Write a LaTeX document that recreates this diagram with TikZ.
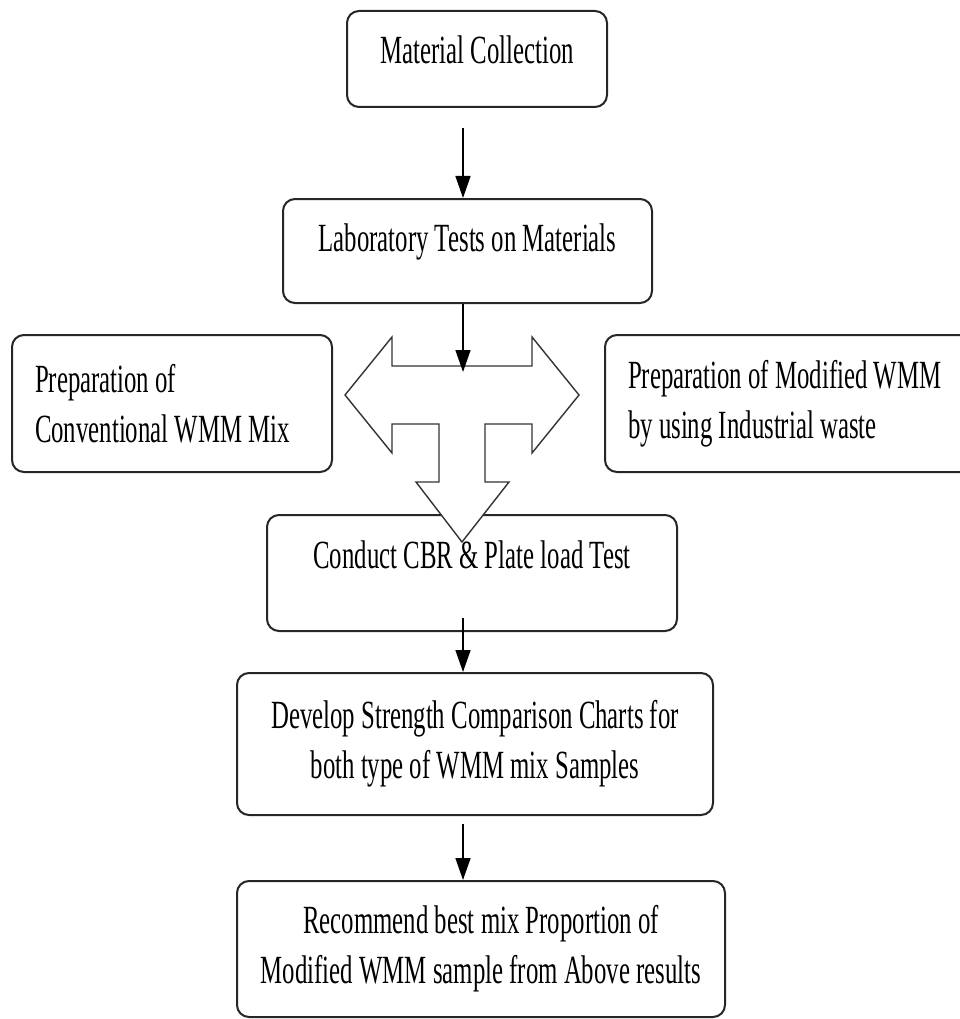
\documentclass[tikz,border=0pt]{standalone}
\usepackage{fontspec}
\setmainfont[FakeStretch=0.62]{Liberation Serif}
\usetikzlibrary{arrows.meta,positioning,calc}

\begin{document}
\begin{tikzpicture}[x=1pt,y=-1pt,
box/.style={draw=black!85,line width=2,rounded corners=12,fill=white,inner sep=0,
  font=\fontsize{40}{50}\selectfont,align=center},
onebox/.style={box,text height=26,text depth=26},
sidebox/.style={box,align=flush left,inner xsep=23},
tee/.style={draw=black!80,line width=1.4,fill=white,line join=miter},
arc/.style={-{Triangle[length=22,width=15]},line width=1.5}]
\useasboundingbox (0,0) rectangle (960,1019);
\clip (0,0) rectangle (960,1019);
\coordinate (spine) at (463,0);
\node[onebox,text depth=16,minimum width=260,minimum height=96] (collect) at (477,59) {Material Collection};
\node[onebox,minimum width=369,minimum height=104] (labtest) at (467.5,251) {Laboratory Tests on Materials};
\node[sidebox,text width=274,minimum height=137] (convmix) at (172,403.5) {Preparation of\\Conventional WMM Mix};
\node[sidebox,text width=324,minimum height=137] (modmix) at (790,403.5) {Preparation of Modified WMM\\by using Industrial waste};
\node[onebox,text depth=36,minimum width=410,minimum height=116] (cbrtest) at (472,573) {Conduct CBR \& Plate load Test};
\node[box,minimum width=476,minimum height=142] (compare) at (475,744) {Develop Strength Comparison Charts for\\both type of WMM mix Samples};
\node[box,minimum width=488,minimum height=136] (recommend) at (481,949) {Recommend best mix Proportion of\\Modified WMM sample from Above results};
% three-way block arrow
\draw[tee] (345,395) -- (392,337) -- (392,366) -- (532,366) -- (532,337) -- (579,395)
  -- (532,453) -- (532,424) -- (485,424) -- (485,482) -- (509,482) -- (462,542)
  -- (416,482) -- (439,482) -- (439,424) -- (392,424) -- (392,453) -- cycle;
\coordinate (teetop) at (463,372);
\draw[arc] ($(spine |- collect.south)+(0,20)$) -- (spine |- labtest.north);
\draw[arc] (spine |- labtest.south) -- (teetop);
\draw[arc] ($(spine |- cbrtest.south)+(0,-14)$) -- (spine |- compare.north);
\draw[arc] ($(spine |- compare.south)+(0,8)$) -- (spine |- recommend.north);
\end{tikzpicture}
\end{document}
